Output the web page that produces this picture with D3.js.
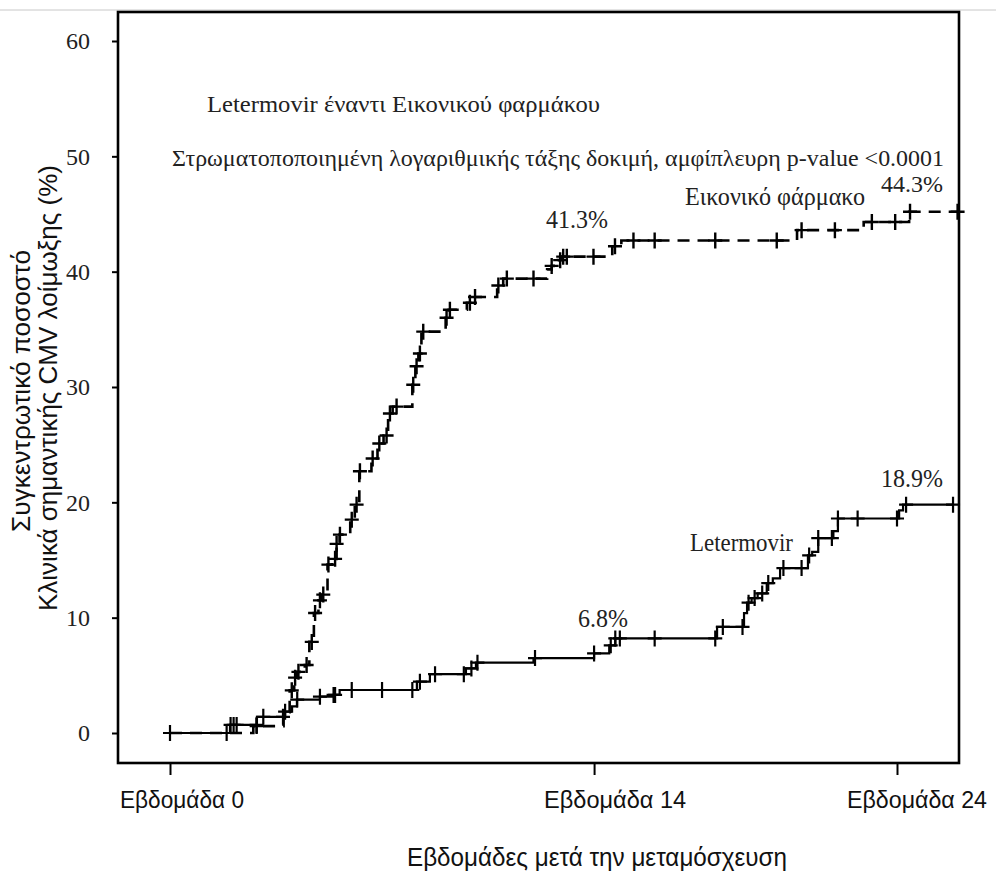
<!DOCTYPE html>
<html><head><meta charset="utf-8">
<script src="https://cdn.jsdelivr.net/npm/d3@7"></script>
<style>body{margin:0;background:#fff} svg{display:block}</style>
</head><body><svg id="c" width="996" height="875"></svg>
<script>
// ---- data (weeks after transplant, cumulative % with clinically significant CMV infection)
const letermovirTimes  = [0, 1.98, 2.87, 3.8, 4.03, 4.19, 4.95, 5.4, 5.6, 8.15, 8.58, 9.77, 10.1, 12.0, 14.0, 14.5, 14.7, 18.06, 18.95, 19.05, 19.2, 19.4, 19.7, 19.9, 20.14, 21.06, 21.2, 21.4, 21.9, 22.05, 24.07, 24.2];
const letermovirValues = [0, 0.7, 1.4, 1.85, 2.3, 2.9, 3.15, 3.3, 3.73, 4.45, 5.1, 5.6, 6.1, 6.5, 6.9, 7.6, 8.2, 9.2, 10.4, 11.3, 11.7, 12.1, 13.0, 13.4, 14.3, 15.4, 15.7, 16.9, 17.5, 18.6, 19.3, 19.8];
const letermovirEnd = 25.85;
const letermovirCensor = [0, 1.87, 2.0, 2.1, 2.2, 2.86, 3.08, 3.73, 3.8, 4.2, 4.95, 5.4, 5.45, 6.0, 7.0, 8.0, 8.25, 8.75, 9.7, 9.95, 10.15, 12.05, 14.0, 14.55, 14.7, 14.85, 16.0, 18.0, 18.25, 18.9, 19.1, 19.3, 19.55, 19.75, 20.25, 20.85, 21.1, 21.4, 21.85, 22.05, 22.7, 24.0, 24.3, 25.85];

const placeboTimes  = [0, 2.75, 3.75, 3.95, 4.1, 4.2, 4.45, 4.6, 4.75, 4.9, 5.0, 5.2, 5.35, 5.5, 5.6, 5.95, 6.1, 6.25, 6.65, 6.85, 7.05, 7.2, 7.35, 8.0, 8.1, 8.2, 8.3, 9.1, 9.2, 9.8, 9.95, 10.8, 11.0, 12.45, 12.6, 12.8, 12.95, 14.6, 14.9, 20.7, 22.9, 24.4];
const placeboValues = [0, 0.6, 1.8, 3.7, 4.8, 5.3, 5.9, 7.9, 10.4, 11.5, 12.0, 14.6, 15.1, 16.4, 17.2, 18.5, 19.8, 22.7, 23.8, 25.1, 25.8, 27.7, 28.3, 30.2, 31.8, 32.9, 34.8, 36.0, 36.7, 37.3, 37.8, 38.8, 39.4, 40.2, 40.5, 41.0, 41.3, 42.2, 42.7, 43.6, 44.3, 45.2];
const placeboEnd = 26.0;
const placeboCensor = [2.86, 4.02, 4.13, 4.24, 4.51, 4.68, 4.79, 4.95, 5.06, 5.23, 5.45, 5.5, 5.61, 6.0, 6.16, 6.27, 6.69, 6.91, 7.15, 7.26, 7.48, 8.03, 8.14, 8.25, 8.36, 9.13, 9.24, 9.9, 10.07, 10.84, 11.12, 12.0, 12.6, 12.88, 12.98, 13.1, 13.98, 14.69, 15.3, 16.0, 18.0, 20.03, 20.85, 21.95, 23.17, 23.94, 24.43, 26.0];

const xTickValues = [0, 14, 24];
const xTickLabels = ["Εβδομάδα 0", "Εβδομάδα 14", "Εβδομάδα 24"];
const yTickValues = [0, 10, 20, 30, 40, 50, 60];

const pctLabels = [
  {t: 14, v: 41.3, text: "41.3%"},
  {t: 24, v: 44.3, text: "44.3%"},
  {t: 14, v: 6.8,  text: "6.8%"},
  {t: 24, v: 18.9, text: "18.9%"}
];

// ---- drawing
const svg = d3.select("#c");
const x = d3.scaleLinear().domain([0, 24]).range([170, 897]);
const y = d3.scaleLinear().domain([0, 60]).range([733, 41]);

svg.append("rect").attr("width", 996).attr("height", 875).attr("fill", "#fff");
svg.append("line").attr("x1", 0).attr("x2", 996).attr("y1", 10).attr("y2", 10)
  .attr("stroke", "#c8c8c8").attr("stroke-width", 1);

// frame
svg.append("rect").attr("x", 118).attr("y", 12).attr("width", 841).attr("height", 751)
  .attr("fill", "none").attr("stroke", "#000").attr("stroke-width", 2.6);

// y axis
const ya = svg.append("g").attr("transform", "translate(118,0)")
  .call(d3.axisLeft(y).tickValues(yTickValues).tickSize(6).tickPadding(22).tickFormat(d3.format("d")));
ya.select(".domain").remove();
ya.selectAll("line").attr("stroke", "#000").attr("stroke-width", 2);
ya.selectAll("text").attr("font-family", "Liberation Serif, Times New Roman, serif")
  .attr("font-size", 24).attr("fill", "#222");

// x axis
const xa = svg.append("g").attr("transform", "translate(0,763)")
  .call(d3.axisBottom(x).tickValues(xTickValues).tickSize(12).tickFormat(""));
xa.select(".domain").remove();
xa.selectAll("line").attr("stroke", "#000").attr("stroke-width", 2);
const xlabW = [124, 142, 140];
svg.append("g").selectAll("text").data(xTickValues).join("text")
  .attr("x", d => x(d) - 50).attr("y", 808)
  .attr("font-family", "Liberation Sans Narrow, Arial Narrow, Liberation Sans, Arial, sans-serif")
  .attr("font-size", 23).attr("fill", "#111")
  .attr("textLength", (d, i) => xlabW[i]).attr("lengthAdjust", "spacingAndGlyphs")
  .text((d, i) => xTickLabels[i]);

// axis titles
const sansFont = "Liberation Sans Narrow, Arial Narrow, Liberation Sans, Arial, sans-serif";
svg.append("text").attr("x", 597).attr("y", 866).attr("text-anchor", "middle")
  .attr("font-family", sansFont).attr("font-size", 25).attr("fill", "#111")
  .attr("textLength", 380).attr("lengthAdjust", "spacingAndGlyphs")
  .text("Εβδομάδες μετά την μεταμόσχευση");
svg.append("text").attr("transform", "translate(30,391) rotate(-90)").attr("text-anchor", "middle")
  .attr("font-family", sansFont).attr("font-size", 25).attr("fill", "#111")
  .attr("textLength", 282).attr("lengthAdjust", "spacingAndGlyphs")
  .text("Συγκεντρωτικό ποσοστό");
svg.append("text").attr("transform", "translate(57,388) rotate(-90)").attr("text-anchor", "middle")
  .attr("font-family", sansFont).attr("font-size", 25).attr("fill", "#111")
  .attr("textLength", 446).attr("lengthAdjust", "spacingAndGlyphs")
  .text("Κλινικά σημαντικής CMV λοίμωξης (%)");

// curves
function stepPoints(times, values, end) {
  const p = times.map((t, i) => [t, values[i]]);
  p.push([end, values[values.length - 1]]);
  return p;
}
function valueAt(times, values, t) {
  const i = d3.bisectRight(times, t) - 1;
  return values[Math.max(0, i)];
}
const line = d3.line().x(d => x(d[0])).y(d => y(d[1])).curve(d3.curveStepAfter);

svg.append("path").datum(stepPoints(placeboTimes, placeboValues, placeboEnd))
  .attr("d", line).attr("fill", "none").attr("stroke", "#000")
  .attr("stroke-width", 2.6).attr("stroke-dasharray", "12,8");
svg.append("path").datum(stepPoints(letermovirTimes, letermovirValues, letermovirEnd))
  .attr("d", line).attr("fill", "none").attr("stroke", "#000").attr("stroke-width", 2.2);

function cross(t, v) {
  const cx = x(t), cy = y(v);
  return `M${cx - 7},${cy}H${cx + 7}M${cx},${cy - 8}V${cy + 8}`;
}
svg.append("g").selectAll("path").data(placeboCensor).join("path")
  .attr("d", t => cross(t, valueAt(placeboTimes, placeboValues, t)))
  .attr("stroke", "#000").attr("stroke-width", 2.4).attr("fill", "none");
svg.append("g").selectAll("path").data(letermovirCensor).join("path")
  .attr("d", t => cross(t, valueAt(letermovirTimes, letermovirValues, t)))
  .attr("stroke", "#000").attr("stroke-width", 2.2).attr("fill", "none");

// annotations
const serif = "Liberation Serif, Times New Roman, serif";
function ann(txt, xx, yy, w, size, anchor) {
  svg.append("text").attr("x", xx).attr("y", yy).attr("text-anchor", anchor || "start")
    .attr("font-family", serif).attr("font-size", size).attr("fill", "#222")
    .attr("textLength", w).attr("lengthAdjust", "spacingAndGlyphs").text(txt);
}
ann("Letermovir  έναντι Εικονικού φαρμάκου", 207, 112, 393, 24);
ann("Στρωματοποποιημένη λογαριθμικής τάξης δοκιμή, αμφίπλευρη p-value <0.0001", 172, 166, 772, 24);
ann("Εικονικό φάρμακο", 685, 205, 180, 25);
ann("Letermovir", 690, 551, 103, 26);

const pctOff = [29, 30, 28, 28];
const pctX = [-17, 15, 9, 15];
const pctW = [62, 62, 50, 62];
const pctSize = [25, 23, 25, 25];
pctLabels.forEach((d, i) => {
  ann(d.text, x(d.t) + pctX[i], y(d.v) - pctOff[i], pctW[i], pctSize[i], "middle");
});
</script></body></html>
